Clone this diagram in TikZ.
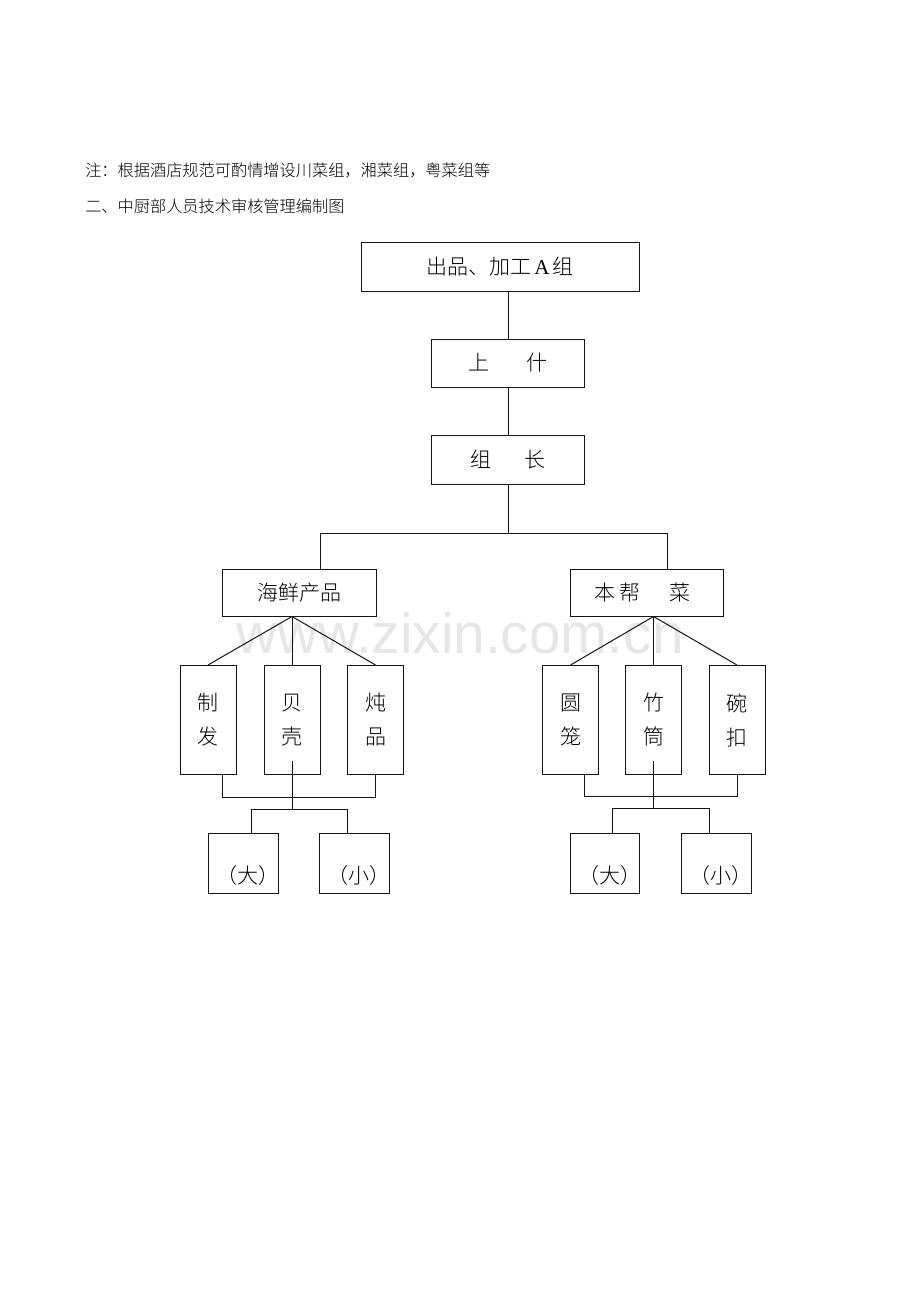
\documentclass[tikz,border=0pt]{standalone}
\usepackage{fontspec}
\setmainfont{Liberation Serif}
\newfontfamily\cjk{Noto Sans CJK SC Light}
\newfontfamily\wmfont{Liberation Sans}
\definecolor{wm}{RGB}{230,230,230}
\definecolor{ink}{RGB}{20,20,20}
\begin{document}
\begin{tikzpicture}[x=0.75pt,y=-0.75pt,
  box/.style={draw=ink,line width=0.75pt,inner sep=0pt,font=\cjk\fontsize{15.75pt}{19pt}\selectfont},
  tall/.style={box,align=center,minimum width=56*0.75pt,minimum height=109*0.75pt,font=\cjk\fontsize{15.75pt}{25.5pt}\selectfont},
  small/.style={box,minimum width=70*0.75pt,minimum height=60*0.75pt},
  lbl/.style={inner sep=0pt,font=\cjk\fontsize{15.75pt}{19pt}\selectfont},
  head/.style={inner sep=0pt,anchor=west,font=\cjk\fontsize{12.15pt}{15pt}\selectfont},
  ln/.style={draw=ink,line width=0.75pt}]
\fill[white] (0,0) rectangle (920,1302);
\useasboundingbox (0,0) rectangle (920,1302);

% watermark
\node[anchor=base,inner sep=0pt,text=wm,font=\wmfont\fontsize{42.5pt}{50pt}\selectfont] (wmark) at (460,653) {www.zixin.com.cn};

% header
\node[head] (note) at (85,170) {注：根据酒店规范可酌情增设川菜组，湘菜组，粤菜组等};
\node[head] (title) at (85,206) {二、中厨部人员技术审核管理编制图};

% main boxes
\node[box,minimum width=278*0.75pt,minimum height=49*0.75pt] (A) at (500,266.5) {出品、加工\hspace{2pt}{\rmfamily A}\hspace{2pt}组};
\node[box,minimum width=153*0.75pt,minimum height=48*0.75pt] (shang) at (508,363) {上\hspace{28pt}什};
\node[box,minimum width=153*0.75pt,minimum height=49*0.75pt] (zuzhang) at (508,459.5) {组\hspace{25pt}长};
\node[box,minimum width=154*0.75pt,minimum height=47*0.75pt] (haixian) at (299,592.5) {海鲜产品};
\node[box,minimum width=153*0.75pt,minimum height=47*0.75pt] (benbang) at (646.5,592.5) {\hspace{-6pt}本\hspace{3pt}帮\hspace{22pt}菜};

% tall boxes
\node[tall] (zhifa) at (208,720) {制\\发};
\node[tall] (beike) at (292,720) {贝\\壳};
\node[tall] (dunpin) at (375.5,720) {炖\\品};
\node[tall] (yuanlong) at (570.5,720) {圆\\笼};
\node[tall] (zhutong) at (653.5,720) {竹\\筒};
\node[tall] (wankou) at (737,720) {碗\\扣};

% small boxes
\node[small] (da1) at (243,863) {};
\node[small] (xiao1) at (354,863) {};
\node[small,minimum width=69*0.75pt] (da2) at (604.5,863) {};
\node[small] (xiao2) at (716,863) {};
\node[lbl] (da1t) at ([shift={(5,13)}]da1.center) {（大）};
\node[lbl] (xiao1t) at ([shift={(5,13)}]xiao1.center) {（小）};
\node[lbl] (da2t) at ([shift={(5,13)}]da2.center) {（大）};
\node[lbl] (xiao2t) at ([shift={(5,13)}]xiao2.center) {（小）};

% top chain
\draw[ln] (shang.north |- A.south) -- (shang.north);
\draw[ln] (shang.south) -- (zuzhang.north);
\coordinate (hl) at (320,533);
\coordinate (hr) at (667,533);
\draw[ln] (zuzhang.south) -- (zuzhang.south |- hl);
\draw[ln] (hl |- haixian.north) -- (hl) -- (hr) -- (hr |- benbang.north);

% fans
\coordinate (lapex) at (beike.north |- haixian.south);
\draw[ln] (lapex) -- (zhifa.north);
\draw[ln] (lapex) -- (beike.north);
\draw[ln] (lapex) -- (dunpin.north);
\coordinate (rapex) at (zhutong.north |- benbang.south);
\draw[ln] (rapex) -- (yuanlong.north);
\draw[ln] (rapex) -- (zhutong.north);
\draw[ln] (rapex) -- (wankou.north);

% bottom left
\coordinate (lb1) at (222.5,797);
\coordinate (lb2) at (375.5,797);
\draw[ln] (lb1 |- zhifa.south) -- (lb1) -- (lb2) -- (lb2 |- dunpin.south);
\coordinate (lm) at (292,761);
\coordinate (lmb) at (292,809);
\draw[ln] (lm) -- (lmb);
\coordinate (ld1) at (251,809);
\coordinate (ld2) at (347,809);
\draw[ln] (ld1 |- da1.north) -- (ld1) -- (ld2) -- (ld2 |- xiao1.north);

% bottom right
\coordinate (rb1) at (584,796.5);
\coordinate (rb2) at (737,796.5);
\draw[ln] (rb1 |- yuanlong.south) -- (rb1) -- (rb2) -- (rb2 |- wankou.south);
\coordinate (rm) at (653.5,761);
\coordinate (rmb) at (653.5,808.5);
\draw[ln] (rm) -- (rmb);
\coordinate (rd1) at (612,808.5);
\coordinate (rd2) at (709,808.5);
\draw[ln] (rd1 |- da2.north) -- (rd1) -- (rd2) -- (rd2 |- xiao2.north);
\end{tikzpicture}
\end{document}
